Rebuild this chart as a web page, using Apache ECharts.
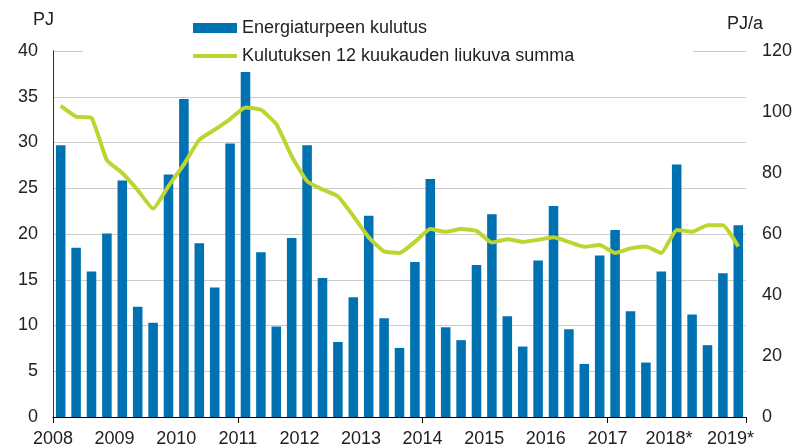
<!DOCTYPE html>
<html><head><meta charset="utf-8">
<script src="https://cdn.jsdelivr.net/npm/echarts@6/dist/echarts.min.js"></script>
<style>html,body{margin:0;padding:0;background:#fff}#c{width:796px;height:448px}</style>
</head><body><div id="c"></div>
<script>
var quarters = [];
for (var y = 2008; y <= 2019; y++) for (var q = 1; q <= 4; q++) if (quarters.length < 45) quarters.push(y + 'Q' + q);
var yearLabels = ['2008','2009','2010','2011','2012','2013','2014','2015','2016','2017','2018*','2019*'];
var consumption = [29.7,18.5,15.9,20.05,25.85,12.05,10.3,26.5,34.75,19.0,14.15,29.9,37.7,18.0,9.9,19.55,29.7,15.2,8.2,13.1,22.0,10.8,7.55,16.95,26.0,9.8,8.4,16.6,22.15,11.0,7.7,17.1,23.05,9.6,5.8,17.65,20.45,11.55,5.95,15.9,27.6,11.2,7.85,15.7,20.95];
var rollingSum = [102.0,98.5,98.0,84.2,80.0,74.4,68.3,75.7,82.8,90.9,94.2,97.7,101.5,100.7,96.0,85.5,77.3,74.6,72.4,65.9,58.9,54.3,53.8,57.4,61.6,60.7,61.6,61.0,57.2,58.3,57.4,58.1,58.9,57.4,55.8,56.4,53.8,55.3,55.9,53.8,61.3,60.7,62.9,62.9,55.9];
var leftTicks = {min: 0, max: 40, interval: 5};
var rightTicks = {min: 0, max: 120, interval: 20};
var leftUnit = 'PJ', rightUnit = 'PJ/a';

var font = 'Liberation Sans, Arial, sans-serif';
var chart = echarts.init(document.getElementById('c'), null, {renderer: 'canvas'});
chart.setOption({
  animation: false,
  grid: {left: 53, right: 50, top: 51, bottom: 29, containLabel: false},
  title: [
    {text: leftUnit, right: 796 - 54, top: 11, padding: 0, textStyle: {fontFamily: font, fontSize: 18, fontWeight: 'normal', color: '#222'}},
    {text: rightUnit, left: 727, top: 15, padding: 0, textStyle: {fontFamily: font, fontSize: 18, fontWeight: 'normal', color: '#222'}}
  ],
  legend: {
    orient: 'vertical', left: 188, top: 14, itemWidth: 44, itemHeight: 10, itemGap: 10,
    textStyle: {fontFamily: font, fontSize: 18, color: '#222'},
    data: [
      {name: 'Energiaturpeen kulutus', icon: 'rect'},
      {name: 'Kulutuksen 12 kuukauden liukuva summa', icon: 'path://M0,0H44V4H0Z'}
    ],
    z: 5
  },
  graphic: [{type: 'rect', z: 3, shape: {x: 83, y: 48, width: 610, height: 6}, style: {fill: '#fff'}}],
  xAxis: [
    {type: 'category', data: quarters, show: false, boundaryGap: true},
    {type: 'value', min: 0, max: quarters.length, interval: 4, position: 'bottom',
     axisLine: {show: true, lineStyle: {color: '#000', width: 1}}, axisTick: {show: false}, splitLine: {show: false},
     axisLabel: {margin: 13, fontFamily: font, fontSize: 18, color: '#222', showMaxLabel: false,
       formatter: function (v) { return (v % 4 === 0 && v / 4 < yearLabels.length) ? yearLabels[v / 4] : ''; }}},
    {type: 'value', min: 0, max: quarters.length, interval: 12, position: 'bottom',
     axisLine: {show: false}, axisLabel: {show: false}, splitLine: {show: false},
     axisTick: {show: true, length: 6, lineStyle: {color: '#000'}}}
  ],
  yAxis: [
    {type: 'value', min: leftTicks.min, max: leftTicks.max, interval: leftTicks.interval, position: 'left',
     axisLine: {show: true, lineStyle: {color: '#000'}}, axisTick: {show: false},
     axisLabel: {margin: 15, fontFamily: font, fontSize: 18, color: '#222'},
     splitLine: {show: true, lineStyle: {color: '#cccccc', width: 1}}},
    {type: 'value', min: rightTicks.min, max: rightTicks.max, interval: rightTicks.interval, position: 'right',
     axisLine: {show: true, lineStyle: {color: '#333'}}, axisTick: {show: false},
     axisLabel: {margin: 16, fontFamily: font, fontSize: 18, color: '#222'},
     splitLine: {show: false}}
  ],
  series: [
    {name: 'Energiaturpeen kulutus', type: 'bar', xAxisIndex: 0, yAxisIndex: 0, data: consumption,
     barCategoryGap: '38%', itemStyle: {color: '#0072b1'}},
    {name: 'Kulutuksen 12 kuukauden liukuva summa', type: 'line', xAxisIndex: 0, yAxisIndex: 1, data: rollingSum,
     symbol: 'none', smooth: 0.15, lineStyle: {color: '#bcd531', width: 4, join: 'round'}, itemStyle: {color: '#bcd531'}}
  ]
});
</script></body></html>
